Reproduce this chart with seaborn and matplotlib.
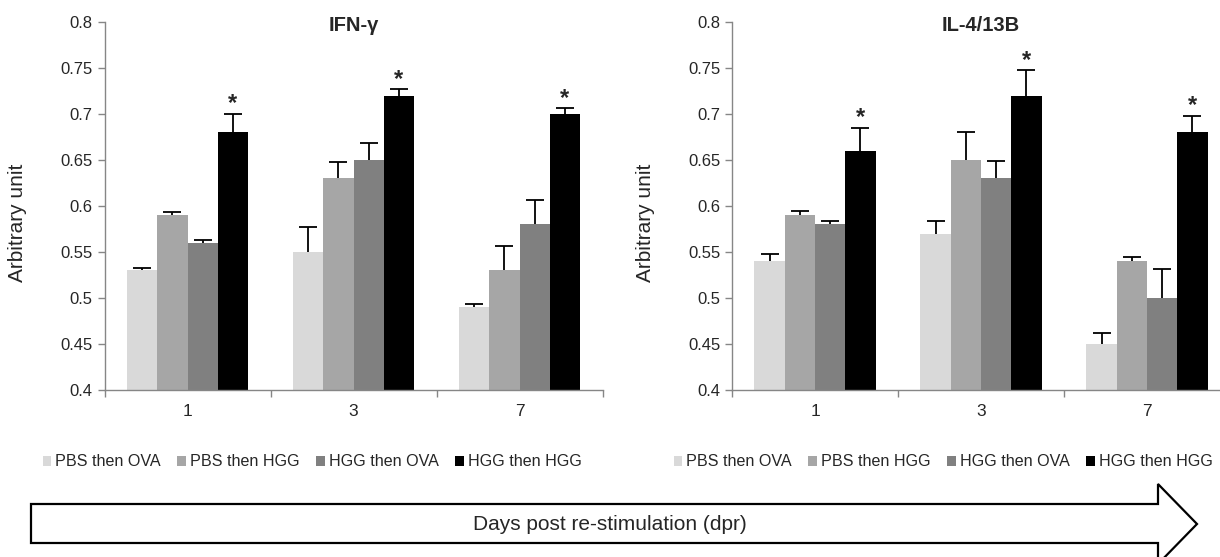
import numpy as np
import pandas as pd
import seaborn as sns
import matplotlib.pyplot as plt
from matplotlib.patches import Polygon
from matplotlib.ticker import FuncFormatter

# Values
days = ["1", "3", "7"]
groups = ["PBS then OVA", "PBS then HGG", "HGG then OVA", "HGG then HGG"]
colors = ["#D9D9D9", "#A6A6A6", "#808080", "#000000"]

ifn_mean = {"PBS then OVA": [0.53, 0.55, 0.49],
            "PBS then HGG": [0.59, 0.63, 0.53],
            "HGG then OVA": [0.56, 0.65, 0.58],
            "HGG then HGG": [0.68, 0.72, 0.70]}
ifn_err = {"PBS then OVA": [0.003, 0.027, 0.003],
           "PBS then HGG": [0.003, 0.018, 0.026],
           "HGG then OVA": [0.003, 0.018, 0.027],
           "HGG then HGG": [0.020, 0.007, 0.006]}

il_mean = {"PBS then OVA": [0.54, 0.57, 0.45],
           "PBS then HGG": [0.59, 0.65, 0.54],
           "HGG then OVA": [0.58, 0.63, 0.50],
           "HGG then HGG": [0.66, 0.72, 0.68]}
il_err = {"PBS then OVA": [0.0075, 0.0135, 0.012],
          "PBS then HGG": [0.005, 0.030, 0.005],
          "HGG then OVA": [0.0035, 0.019, 0.031],
          "HGG then HGG": [0.025, 0.0275, 0.018]}

starred = ["HGG then HGG"]
yticks = [0.4, 0.45, 0.5, 0.55, 0.6, 0.65, 0.7, 0.75, 0.8]

sns.set_style("ticks")
plt.rcParams['font.family'] = ['Liberation Sans', 'DejaVu Sans']

fig = plt.figure(figsize=(12.2, 5.57), dpi=100)
ax_left = fig.add_axes([104.5 / 1220, 167 / 557, 498 / 1220, 368 / 557])
ax_right = fig.add_axes([732 / 1220, 167 / 557, 498 / 1220, 368 / 557])

spine_col = "#868686"


def draw_panel(ax, means, errs, title, legend_x):
    rows = []
    for g in groups:
        for d, v in zip(days, means[g]):
            rows.append({"day": d, "group": g, "value": v})
    df = pd.DataFrame(rows)

    sns.barplot(data=df, x="day", y="value", hue="group", order=days,
                hue_order=groups, palette=colors, width=0.73,
                errorbar=None, linewidth=0, saturation=1, ax=ax)

    # upper-only error bars (stem + top cap) and stars, placed on the drawn bars
    for g, cont in zip(groups, ax.containers):
        for bar, e in zip(cont.patches, errs[g]):
            x = bar.get_x() + bar.get_width() / 2
            y = bar.get_height()
            ax.vlines(x, y, y + e, color="black", linewidth=1.3, zorder=4)
            ax.plot([x], [y + e], marker="_", markersize=13, mew=1.3,
                    color="black", zorder=4)
            if g in starred:
                ax.annotate("*", (x, y + e), xytext=(0, -1),
                            textcoords="offset points", ha="center",
                            va="bottom", fontsize=17, fontweight="bold")

    ax.set_ylim(0.4, 0.8)
    ax.set_xlim(-0.5, 2.5)
    ax.set_yticks(yticks)
    ax.yaxis.set_major_formatter(FuncFormatter(lambda v, _: f"{v:g}"))
    ax.set_xticks(range(len(days)))
    ax.set_xticklabels(days)
    ax.set_xticks([-0.5, 0.5, 1.5, 2.5], minor=True)
    ax.tick_params(axis="x", which="major", length=0, pad=10, labelsize=12.5)
    ax.tick_params(axis="x", which="minor", length=5, width=1, color=spine_col)
    ax.tick_params(axis="y", length=5, width=1, color=spine_col, labelsize=12)
    for side in ["top", "right"]:
        ax.spines[side].set_visible(False)
    for side in ["left", "bottom"]:
        ax.spines[side].set_color(spine_col)
        ax.spines[side].set_linewidth(1)

    ax.set_xlabel("")
    ax.set_ylabel("Arbitrary unit", fontsize=15)
    ax.yaxis.set_label_coords(-0.155, 0.455)
    ax.text(0.5, 0.99, title, transform=ax.transAxes, ha="center",
            va="center", fontsize=14.5, fontweight="bold")

    handles, labels = ax.get_legend_handles_labels()
    ax.legend(handles, labels, loc="center", bbox_to_anchor=(legend_x, 0.1706),
              bbox_transform=fig.transFigure, ncol=4, frameon=False,
              fontsize=11.6, handlelength=0.55, handleheight=0.55,
              handletextpad=0.25, columnspacing=1.0)


draw_panel(ax_left, ifn_mean, ifn_err, "IFN-γ", 312 / 1220)
draw_panel(ax_right, il_mean, il_err, "IL-4/13B", 943 / 1220)

# arrow along the bottom
W, H = 1220.0, 557.0
pts = [(31, 504), (1158, 504), (1158, 484), (1197, 524),
       (1158, 564), (1158, 543), (31, 543)]
pts = [(x / W, 1 - y / H) for x, y in pts]
arrow = Polygon(pts, closed=True, facecolor="white", edgecolor="black",
                linewidth=1.6, transform=fig.transFigure)
fig.add_artist(arrow)
fig.text(610 / W, 1 - 524 / H, "Days post re-stimulation (dpr)",
         ha="center", va="center", fontsize=15)

fig.savefig("out.png", dpi=100)
